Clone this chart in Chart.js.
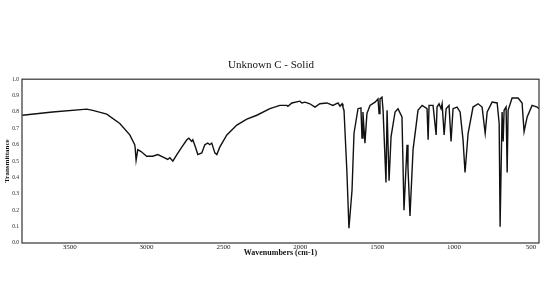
<!DOCTYPE html>
<html>
<head>
<meta charset="utf-8">
<script src="https://cdn.jsdelivr.net/npm/chart.js@4/dist/chart.umd.min.js"></script>
<style>
  body { margin: 0; background: #fff; }
  #wrap { width: 560px; height: 308px; }
</style>
</head>
<body>
<div id="wrap"><canvas id="espectro"></canvas></div>
<script>
const numeroOnda = [
  3808, 3611, 3389, 3350, 3259, 3174, 3109, 3077, 3074, 3068, 3057, 3038, 2999, 2960, 2927,
  2882, 2862, 2849, 2829, 2803, 2771, 2738, 2725, 2706, 2699, 2680, 2667, 2641, 2621, 2602,
  2589, 2576, 2556, 2543, 2524, 2478, 2413, 2348, 2283, 2198, 2133, 2087, 2081, 2055, 2003,
  1990, 1970, 1938, 1905, 1873, 1827, 1788, 1755, 1742, 1729, 1723, 1716, 1697, 1684, 1664,
  1651, 1625, 1606, 1599, 1593, 1580, 1567, 1547, 1514, 1495, 1488, 1482, 1469, 1462, 1443,
  1436, 1423, 1410, 1384, 1365, 1339, 1326, 1306, 1300, 1287, 1267, 1248, 1235, 1208, 1176,
  1169, 1163, 1137, 1117, 1111, 1098, 1085, 1078, 1065, 1052, 1033, 1020, 1007, 981, 961,
  942, 929, 909, 877, 844, 818, 798, 785, 753, 720, 707, 701, 688, 681, 675,
  662, 655, 649, 623, 584, 558, 545, 525, 493, 460, 448
];
const transmitancia = [
  0.78, 0.80, 0.817, 0.81, 0.787, 0.73, 0.66, 0.60, 0.58, 0.505, 0.57, 0.56, 0.53, 0.53, 0.54,
  0.52, 0.51, 0.52, 0.50, 0.54, 0.585, 0.63, 0.64, 0.62, 0.63, 0.58, 0.54, 0.55, 0.60, 0.61,
  0.60, 0.61, 0.55, 0.54, 0.585, 0.66, 0.72, 0.756, 0.78, 0.82, 0.84, 0.84, 0.835, 0.855, 0.866,
  0.855, 0.86, 0.85, 0.83, 0.85, 0.855, 0.84, 0.855, 0.835, 0.85, 0.83, 0.81, 0.43, 0.09, 0.32,
  0.67, 0.82, 0.825, 0.64, 0.80, 0.61, 0.79, 0.84, 0.86, 0.88, 0.79, 0.88, 0.89, 0.81, 0.37,
  0.81, 0.38, 0.65, 0.80, 0.82, 0.77, 0.20, 0.60, 0.46, 0.165, 0.57, 0.71, 0.81, 0.84, 0.82,
  0.63, 0.84, 0.84, 0.66, 0.83, 0.85, 0.82, 0.85, 0.66, 0.82, 0.84, 0.62, 0.82, 0.83, 0.80,
  0.63, 0.43, 0.67, 0.83, 0.85, 0.83, 0.67, 0.80, 0.86, 0.855, 0.73, 0.10, 0.80, 0.62, 0.81,
  0.83, 0.43, 0.81, 0.885, 0.885, 0.855, 0.68, 0.77, 0.84, 0.83, 0.82
];
const ticksX = [3500, 3000, 2500, 2000, 1500, 1000, 500];
const ticksY = [0, 0.1, 0.2, 0.3, 0.4, 0.5, 0.6, 0.7, 0.8, 0.9, 1.0];

const fuente = "'Liberation Serif', 'Times New Roman', serif";

const puntos = numeroOnda.map((w, i) => ({ x: w, y: transmitancia[i] }));

// marco alrededor del area del grafico
const marco = {
  id: 'marco',
  afterDraw(chart) {
    const a = chart.chartArea;
    const ctx = chart.ctx;
    ctx.save();
    ctx.strokeStyle = '#333';
    ctx.lineWidth = 1.2;
    ctx.strokeRect(a.left, a.top, a.right - a.left, a.bottom - a.top);
    ctx.restore();
  }
};

new Chart(document.getElementById('espectro'), {
  type: 'line',
  data: {
    datasets: [{
      data: puntos,
      borderColor: '#111',
      borderWidth: 1.4,
      pointRadius: 0,
      tension: 0,
      fill: false
    }]
  },
  options: {
    responsive: true,
    maintainAspectRatio: false,
    animation: false,
    layout: { padding: { top: 0, left: 3, right: 21, bottom: 50 } },
    plugins: {
      legend: { display: false },
      tooltip: { enabled: false },
      title: {
        display: true,
        text: 'Unknown C - Solid',
        color: '#111',
        font: { family: fuente, size: 11, weight: 'normal' },
        padding: { top: 59, bottom: 7 }
      }
    },
    scales: {
      x: {
        type: 'linear',
        reverse: true,
        min: 448,
        max: 3810,
        grid: { display: false, drawTicks: false },
        border: { display: false },
        afterBuildTicks: (scale) => { scale.ticks = ticksX.map(v => ({ value: v })); },
        afterFit: (scale) => { scale.height = 15; },
        ticks: {
          color: '#222',
          padding: 0,
          maxRotation: 0,
          autoSkip: false,
          font: { family: fuente, size: 7 },
          callback: (v) => String(v)
        },
        title: {
          display: true,
          text: 'Wavenumbers (cm-1)',
          color: '#111',
          padding: 0,
          font: { family: fuente, size: 8, weight: 'bold' }
        }
      },
      y: {
        min: 0,
        max: 1,
        grid: { display: false, drawTicks: true, tickLength: 2 },
        border: { display: false },
        afterBuildTicks: (scale) => { scale.ticks = ticksY.map(v => ({ value: v })); },
        afterFit: (scale) => { scale.width = 19; },
        ticks: {
          color: '#222',
          padding: 1,
          autoSkip: false,
          font: { family: fuente, size: 5.5 },
          callback: (v) => v.toFixed(1)
        },
        title: {
          display: true,
          text: 'Transmittance',
          color: '#111',
          padding: 0,
          font: { family: fuente, size: 7, weight: 'bold' }
        }
      }
    }
  },
  plugins: [marco]
});
</script>
</body>
</html>
